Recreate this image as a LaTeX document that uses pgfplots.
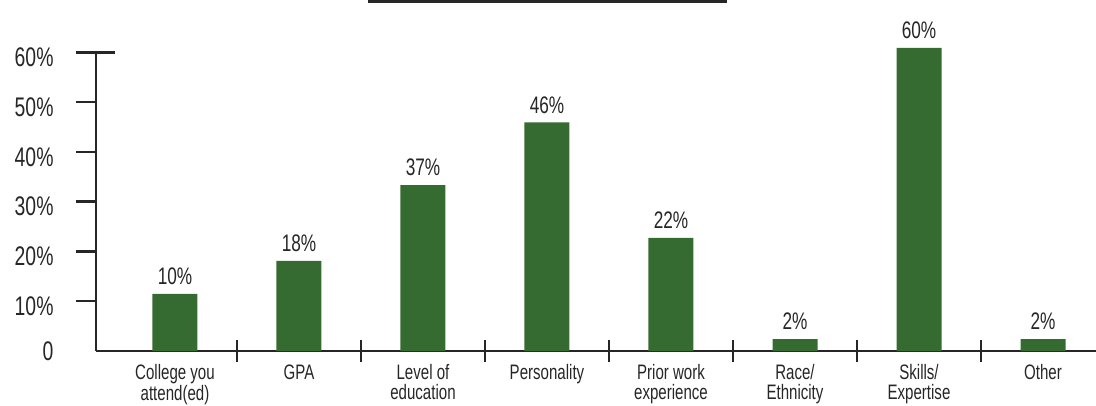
\documentclass[border=0pt]{standalone}
\usepackage{fontspec}
\setmainfont{Liberation Sans}[FakeStretch=0.72]
\usepackage{pgfplots}
\usetikzlibrary{calc}
\pgfplotsset{compat=1.18}
\definecolor{bargreen}{HTML}{356B30}
\definecolor{ink}{HTML}{262626}
\begin{document}
\begin{tikzpicture}
\begin{axis}[
  scale only axis, width=1000bp, height=298.7bp,
  xmin=-0.637, xmax=7.427, ymin=0, ymax=60,
  clip=false,
  axis x line*=bottom, axis y line*=left,
  axis line style={ink, line width=2.5bp},
  ytick={10,20,...,60}, yticklabels={10\%,20\%,30\%,40\%,50\%,60\%},
  extra y ticks={0}, extra y tick labels={0},
  extra y tick style={y tick style={draw=none}, yticklabel style={yshift=5bp}},
  tick align=outside, major tick length=20bp,
  y tick style={ink, line width=2.5bp},
  yticklabel style={font=\fontsize{27}{27}\selectfont, text=ink, yshift=-5bp, xshift=-19bp},
  xtick={0,...,7},
  xticklabels={College you\\attend(ed), GPA, Level of\\education, Personality, Prior work\\experience, Race/\\Ethnicity, Skills/\\Expertise, Other},
  x tick style={draw=none},
  xticklabel style={font=\fontsize{21}{19.5}\selectfont, align=center, text=ink, anchor=north, yshift=10bp},
  extra x ticks={0.5,1.5,...,6.5}, extra x tick labels={},
  extra x tick style={x tick style={draw=ink, line width=2bp}, major tick length=22bp, tick align=center},
]
\addplot[ybar, fill=bargreen, draw=none, bar width=45bp,
  nodes near coords={\pgfplotspointmeta\%},
  point meta=explicit symbolic,
  nodes near coords style={anchor=south, inner sep=0pt, yshift=9bp, text=ink, font=\fontsize{24}{24}\selectfont}]
  table[meta=lab] {
x y lab
0 11.5 10
1 18.1 18
2 33.3 37
3 45.9 46
4 22.7 22
5 2.4 2
6 60.9 60
7 2.4 2
};
\coordinate (O) at (rel axis cs:0,0);
\end{axis}
\draw[ink, line width=2.5bp] ($(O)+(0,298.7bp)$) -- ++(19bp,0);
\draw[ink, line width=3bp] ($(O)+(272bp,349.5bp)$) -- ++(359bp,0);
\pgfresetboundingbox
\useasboundingbox ($(O)+(-96bp,-55bp)$) rectangle ++(1096bp,406bp);
\end{tikzpicture}
\end{document}
